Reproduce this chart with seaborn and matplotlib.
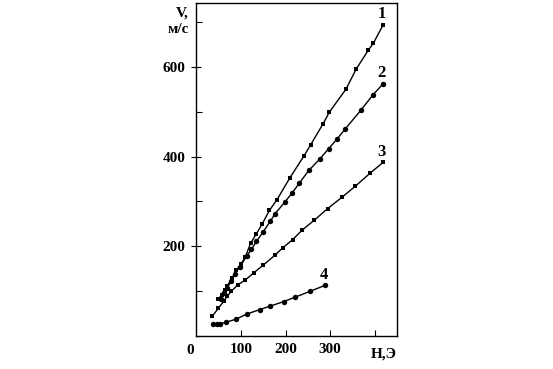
import matplotlib
matplotlib.use('Agg')
import matplotlib.pyplot as plt
import seaborn as sns
from matplotlib.ticker import MultipleLocator

# Field H (Oe) and wall velocity V (m/s) for the four curves
h1 = [50, 57, 64, 70, 81, 90, 100, 110, 122, 135, 148, 164, 181, 210, 241, 256, 284, 298, 335, 358, 385, 396, 418]
v1 = [82, 92, 103, 112, 130, 147, 160, 176, 207, 228, 250, 280, 304, 353, 401, 426, 473, 499, 550, 595, 637, 652, 693]

h2 = [55, 62, 70, 78, 87, 98, 113, 124, 135, 150, 166, 177, 198, 214, 231, 252, 277, 296, 315, 333, 369, 395, 417]
v2 = [82, 96, 108, 122, 139, 154, 178, 193, 211, 232, 256, 273, 298, 318, 341, 369, 395, 417, 439, 461, 504, 537, 561]

h3 = [36, 50, 62, 70, 79, 94, 109, 129, 150, 176, 194, 216, 237, 264, 294, 327, 356, 389, 418]
v3 = [44, 62, 78, 89, 100, 115, 124, 141, 158, 180, 197, 215, 236, 258, 284, 310, 334, 363, 387]

h4 = [37, 46, 53, 67, 90, 113, 142, 166, 196, 222, 255, 288]
v4 = [26, 26, 27, 31, 38, 49, 59, 67, 77, 87, 100, 113]

curve_labels = ['1', '2', '3', '4']
x_ticks = [100, 200, 300, 400]
x_tick_labels = ['100', '200', '300', '']
y_ticks = [200, 400, 600]

sns.set_style('ticks')
plt.rcParams['font.family'] = ['Liberation Serif', 'DejaVu Serif']
plt.rcParams['font.weight'] = 'bold'
plt.rcParams['text.color'] = 'black'
plt.rcParams['xtick.color'] = 'black'
plt.rcParams['ytick.color'] = 'black'
plt.rcParams['axes.edgecolor'] = 'black'

fig = plt.figure(figsize=(5.53, 3.69), dpi=100)
ax = fig.add_axes([0.3544, 0.0890, 0.3635, 0.9030])

# squares are drawn a bit smaller so they look the same size as the dots
series = [(h1, v1, 's', 3.3), (h2, v2, 'o', 3.9), (h3, v3, 's', 3.3), (h4, v4, 'o', 3.9)]
for h, v, m, ms in series:
    sns.lineplot(x=h, y=v, ax=ax, color='black', linewidth=1.0, marker=m,
                 markersize=ms, markeredgewidth=0, sort=False)

ax.set_xlim(0, 449)
ax.set_ylim(0, 742)

ax.set_xticks(x_ticks)
ax.set_xticklabels(x_tick_labels)
ax.set_yticks(y_ticks)
ax.yaxis.set_minor_locator(MultipleLocator(100))
ax.tick_params(axis='x', direction='in', length=4, width=0.8, labelsize=11, pad=5)
ax.tick_params(axis='y', which='major', direction='inout', length=7, width=0.8, labelsize=11, pad=4)
ax.tick_params(axis='y', which='minor', direction='in', length=4, width=0.8)
for lab in ax.get_xticklabels() + ax.get_yticklabels():
    lab.set_fontweight('bold')
    lab.set_color('black')

for s in ax.spines.values():
    s.set_linewidth(1.0)
    s.set_color('black')
    s.set_visible(True)

ax.set_xlabel('')
ax.set_ylabel('')

# curve numbers near the ends
for lab, h, v in zip(curve_labels, [h1, h2, h3, h4], [v1, v2, v3, v4]):
    ax.annotate(lab, (h[-1], v[-1]), xytext=(-1, 2), textcoords='offset points',
                ha='center', va='bottom', fontsize=12, fontweight='bold', color='black')

# axis captions and corner zero
ax.text(-0.035, 0.99, 'V,', transform=ax.transAxes, ha='right', va='top',
        fontsize=11, fontweight='bold')
ax.text(-0.035, 0.94, 'м/с', transform=ax.transAxes, ha='right', va='top',
        fontsize=11, fontweight='bold')
ax.text(-0.03, -0.025, '0', transform=ax.transAxes, ha='center', va='top',
        fontsize=11, fontweight='bold')
ax.text(1.0, -0.035, 'H,Э', transform=ax.transAxes, ha='right', va='top',
        fontsize=11, fontweight='bold')

fig.savefig('out.png', dpi=100)
